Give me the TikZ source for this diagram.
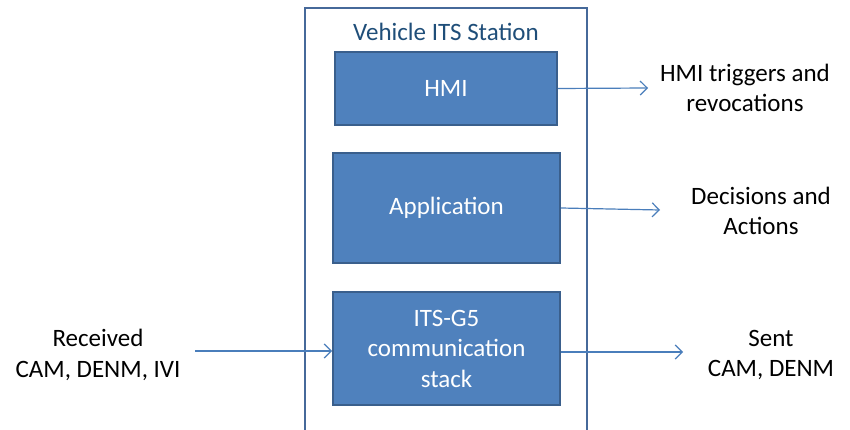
\documentclass[tikz,border=0pt]{standalone}
\usepackage{fontspec}
\setmainfont{Carlito}
\usetikzlibrary{arrows.meta}
\definecolor{boxfill}{HTML}{4F81BD}
\definecolor{boxline}{HTML}{3A5F8C}
\definecolor{stationline}{HTML}{46699A}
\definecolor{flow}{HTML}{4A7EBB}
\definecolor{titleblue}{HTML}{1F4E79}
\tikzset{
  block/.style={draw=boxline,line width=2pt,fill=boxfill,text=white,align=center,
    font=\fontsize{25}{30.5}\selectfont,inner sep=0pt},
  lbl/.style={align=center,font=\fontsize{25}{30.5}\selectfont},
  flowline/.style={draw=flow,line width=1.2pt,-{Straight Barb[length=7pt,width=14pt]}}
}
\begin{document}
\begin{tikzpicture}[x=1pt,y=-1pt]
  \useasboundingbox (0,0) rectangle (850,430);
  \clip (0,0) rectangle (850,430);
  \fill[white] (0,0) rectangle (850,430);
  \draw[stationline,line width=2.5pt] (305,8) rectangle (587,445);
  \node[font=\fontsize{25}{30}\selectfont,text=titleblue] (title) at (446,32) {Vehicle ITS Station};
  \node[block,minimum width=222pt,minimum height=73pt] (hmi) at (446,88.5) {HMI};
  \node[block,minimum width=227pt,minimum height=110pt] (app) at (446.5,208) {Application};
  \node[block,minimum width=227pt,minimum height=113pt] (stack) at (446.5,348.5)
    {ITS-G5\\communication\\stack};
  \node[lbl] (trig) at (745,88) {HMI triggers and\\revocations};
  \node[lbl] (dec) at (761,211) {Decisions and\\Actions};
  \node[lbl] (sent) at (771,355) {Sent\\CAM, DENM};
  \node[lbl] (recv) at (98,355) {Received\\CAM, DENM, IVI};
  \coordinate (trigin) at (648,88);
  \coordinate (decin) at (660,210);
  \coordinate (sentin) at (683,352);
  \coordinate (recvout) at (195,351);
  \draw[flowline] (hmi.east) -- (trigin);
  \draw[flowline] (app.east) -- (decin);
  \draw[flowline] (stack.east|-sentin) -- (sentin);
  \draw[flowline] (recvout) -- (stack.west|-recvout);
\end{tikzpicture}
\end{document}
